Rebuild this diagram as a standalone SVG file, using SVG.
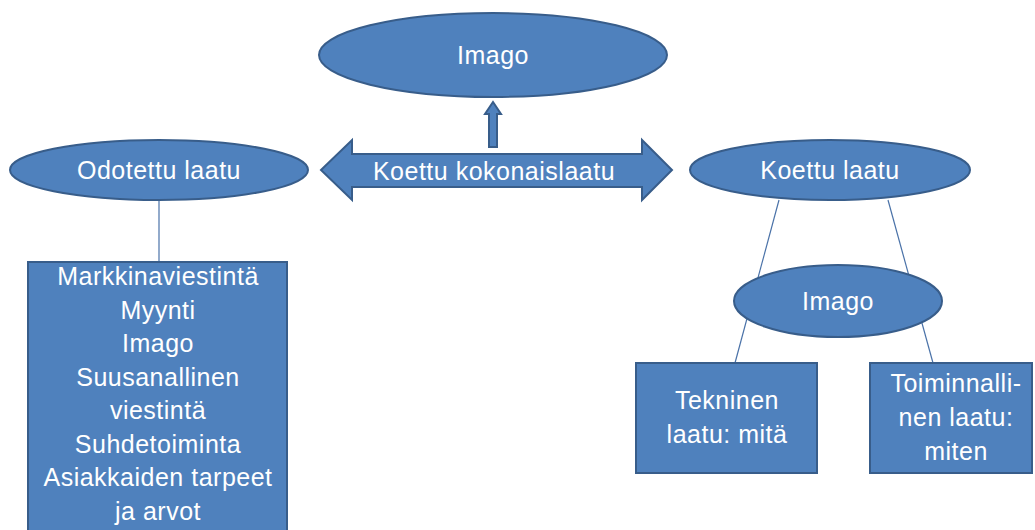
<svg xmlns="http://www.w3.org/2000/svg" width="1035" height="530" viewBox="0 0 1035 530">
<style>
.shape{fill:#4F81BD;stroke:#385D8A;stroke-width:2}
.conn{stroke:#4A72A8;stroke-width:1.2;fill:none}
text{font-family:"Liberation Sans",Arial,sans-serif;font-size:25px;fill:#ffffff;text-anchor:middle;letter-spacing:0.5px}
</style>
<rect width="1035" height="530" fill="#ffffff"/>
<g id="connectors">
<line class="conn" x1="159" y1="200" x2="159" y2="262"/>
<line class="conn" x1="779" y1="200" x2="735" y2="363"/>
<line class="conn" x1="888" y1="200" x2="933" y2="363"/>
</g>
<g id="imago-top">
<ellipse class="shape" cx="493" cy="55" rx="174" ry="42"/>
<text x="493" y="64">Imago</text>
</g>
<g id="arrow-up">
<polygon class="shape" points="493,102 485,114 489,114 489,147 497,147 497,114 501,114"/>
</g>
<g id="koettu-kokonaislaatu">
<polygon class="shape" points="321,170 352,140 352,154 642,154 642,140 672,170 642,200 642,187 352,187 352,200"/>
<text x="494" y="180">Koettu kokonaislaatu</text>
</g>
<g id="odotettu-laatu">
<ellipse class="shape" cx="159" cy="170" rx="149" ry="30"/>
<text x="159" y="179">Odotettu laatu</text>
</g>
<g id="odotettu-list">
<rect class="shape" x="28" y="262" width="259" height="278"/>
<text x="158" y="285">Markkinaviestintä</text>
<text x="158" y="319">Myynti</text>
<text x="158" y="352">Imago</text>
<text x="158" y="386">Suusanallinen</text>
<text x="158" y="419">viestintä</text>
<text x="158" y="453">Suhdetoiminta</text>
<text x="158" y="486">Asiakkaiden tarpeet</text>
<text x="158" y="520">ja arvot</text>
</g>
<g id="koettu-laatu">
<ellipse class="shape" cx="830" cy="170" rx="140" ry="30"/>
<text x="830" y="179">Koettu laatu</text>
</g>
<g id="imago-small">
<ellipse class="shape" cx="838" cy="301" rx="104" ry="36"/>
<text x="838" y="310">Imago</text>
</g>
<g id="tekninen">
<rect class="shape" x="636" y="363" width="181" height="110"/>
<text x="727" y="409">Tekninen</text>
<text x="727" y="443">laatu: mitä</text>
</g>
<g id="toiminnallinen">
<rect class="shape" x="870" y="363" width="162" height="110"/>
<text x="956" y="392">Toiminnalli-</text>
<text x="956" y="426">nen laatu:</text>
<text x="956" y="460">miten</text>
</g>
</svg>
